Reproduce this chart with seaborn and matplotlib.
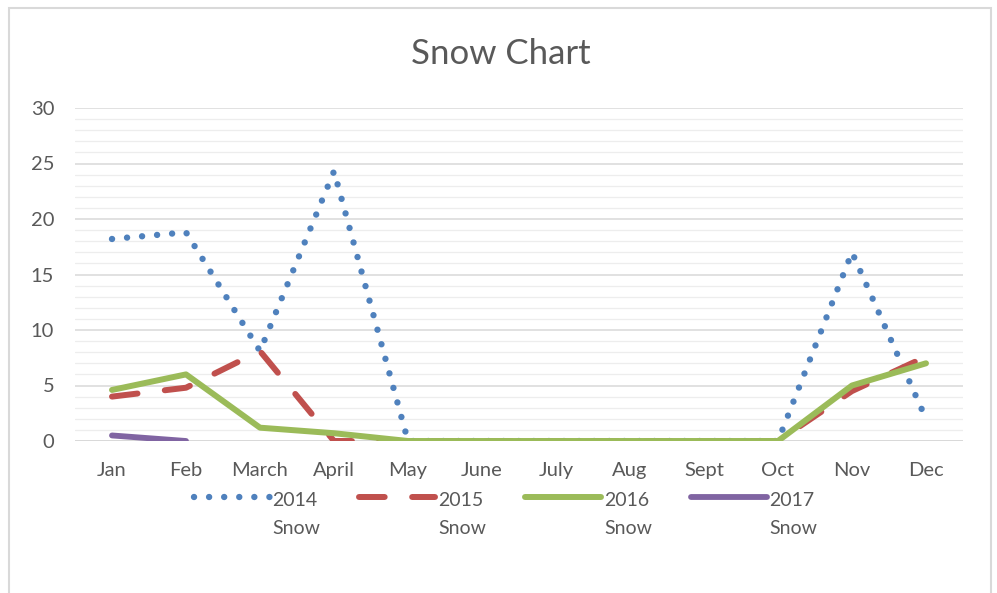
import numpy as np
import pandas as pd
import seaborn as sns
import matplotlib.pyplot as plt
from matplotlib.patches import Rectangle
from matplotlib.ticker import MultipleLocator
from matplotlib.legend_handler import HandlerLine2D

months = ["Jan", "Feb", "March", "April", "May", "June", "July", "Aug", "Sept", "Oct", "Nov", "Dec"]
snow_2014 = [18.2, 18.8, 8.1, 24.3, 0, 0, 0, 0, 0, 0, 17.0, 2.0]
snow_2015 = [4.0, 4.8, 8.1, 0, 0, 0, 0, 0, 0, 0, 4.5, 7.6]
snow_2016 = [4.6, 6.0, 1.2, 0.7, 0, 0, 0, 0, 0, 0, 5.0, 7.0]
snow_2017 = [0.5, 0.0] + [np.nan] * 10
labels = ["2014\nSnow", "2015\nSnow", "2016\nSnow", "2017\nSnow"]

df = pd.DataFrame({"month": months, labels[0]: snow_2014, labels[1]: snow_2015,
                   labels[2]: snow_2016, labels[3]: snow_2017})
df["x"] = range(len(months))

sns.set_theme(style="white")
plt.rcParams["font.family"] = ["Lato", "DejaVu Sans"]
grey = "#595959"


# legend handle sits next to the first line of the two-line label
class UpHandler(HandlerLine2D):
    def create_artists(self, *args, **kwargs):
        arts = super().create_artists(*args, **kwargs)
        for a in arts:
            a.set_ydata(np.asarray(a.get_ydata()) + 12.5)
        return arts


fig = plt.figure(figsize=(9.97, 5.93), dpi=100)
ax = fig.add_axes([75 / 997, 1 - 441 / 593, (963 - 75) / 997, (441 - 108) / 593])

colors = ["#4F81BD", "#C0504D", "#9BBB59", "#8064A2"]
styles = [(0, (0.01, 2.35)), (0, (4.3, 4.6)), "-", "-"]
widths = [4.6, 4.3, 4.3, 4.2]
for lab, c, ls, lw in zip(labels, colors, styles, widths):
    sns.lineplot(data=df, x="x", y=lab, ax=ax, color=c, linewidth=lw, label=lab,
                 linestyle=ls, dash_capstyle="round", solid_capstyle="round")

ax.set_xlim(-0.5, 11.5)
ax.set_ylim(0, 30)
ax.set_xticks(range(len(months)))
ax.set_xticklabels(months)
ax.yaxis.set_major_locator(MultipleLocator(5))
ax.yaxis.set_minor_locator(MultipleLocator(1))
ax.grid(True, which="major", axis="y", color="#D9D9D9", linewidth=1.1)
ax.grid(True, which="minor", axis="y", color="#EDEDED", linewidth=0.9)
ax.set_axisbelow(True)
for s in ax.spines.values():
    s.set_visible(False)
ax.axhline(0, color="#D0D0D0", linewidth=1.1, zorder=0.5)
ax.tick_params(axis="both", which="both", length=0, colors=grey, labelsize=14.5)
ax.tick_params(axis="y", pad=15)
ax.tick_params(axis="x", pad=15)
ax.set_xlabel("")
ax.set_ylabel("")

fig.text(0.502, 1 - 54 / 593, "Snow Chart", ha="center", va="center", fontsize=25, color=grey)

leg = ax.legend(loc="center", bbox_to_anchor=(0.485, -0.22), ncol=4, frameon=False,
                handlelength=3.9, fontsize=14, labelcolor=grey, columnspacing=2.0,
                handletextpad=0.15, handler_map={plt.Line2D: UpHandler()})
for t in leg.get_texts():
    t.set_linespacing(1.78)

fig.patches.append(Rectangle((9 / 997, -0.05), (991 - 9) / 997, 1.05 - 8 / 593,
                             transform=fig.transFigure, fill=False,
                             edgecolor="#D9D9D9", linewidth=1.5))

fig.savefig("out.png", dpi=100)
